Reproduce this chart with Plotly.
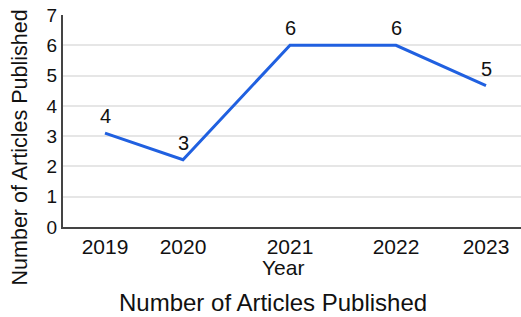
import plotly.graph_objects as go

years = ["2019", "2020", "2021", "2022", "2023"]
x_positions = [42, 120, 227, 333, 423]
plotted_values = [3.1, 2.22, 6.0, 6.0, 4.67]
label_values = ["4", "3", "6", "6", "5"]
y_ticks = [0, 1, 2, 3, 4, 5, 6, 7]

FONT = "Liberation Sans, Arial, Helvetica, sans-serif"
INK = "#111111"

fig = go.Figure()
fig.add_trace(go.Scatter(
    x=x_positions, y=plotted_values, mode="lines",
    line=dict(color="#2060E0", width=3),
    showlegend=False, hoverinfo="skip",
))

annotations = [
    dict(text=lab, x=xv, y=yv, xref="x", yref="y", yshift=17,
         xanchor="center", yanchor="middle", showarrow=False,
         font=dict(size=20, family=FONT, color=INK))
    for xv, yv, lab in zip(x_positions, plotted_values, label_values)
]
annotations += [
    dict(text="Number of Articles Published", xref="paper", yref="paper",
         x=-0.094, y=0.375, xanchor="center", yanchor="middle", textangle=-90,
         showarrow=False, font=dict(size=21.5, family=FONT, color=INK)),
    dict(text="Year", xref="paper", yref="paper", x=0.48, y=-0.193,
         xanchor="center", yanchor="middle", showarrow=False,
         font=dict(size=21, family=FONT, color=INK)),
    dict(text="Number of Articles Published", xref="paper", yref="paper",
         x=0.458, y=-0.358, xanchor="center", yanchor="middle", showarrow=False,
         font=dict(size=24, family=FONT, color=INK)),
]

fig.update_layout(
    width=521, height=317,
    margin=dict(l=63, r=0, t=15, b=90, autoexpand=False),
    paper_bgcolor="white", plot_bgcolor="white",
    font=dict(family=FONT, color=INK),
    xaxis=dict(range=[0, 458], tickvals=x_positions, ticktext=years, automargin=False,
               showgrid=False, zeroline=False, showline=True, linecolor="#444444", linewidth=2,
               ticks="", tickfont=dict(size=21, family=FONT, color=INK)),
    yaxis=dict(range=[0, 7], tickvals=y_ticks, showgrid=True, gridcolor="#e6e6e6", gridwidth=1.5,
               zeroline=False, showline=True, linecolor="#444444", linewidth=2, automargin=False,
               ticks="", ticklen=0, tickfont=dict(size=19, family=FONT, color=INK)),
    annotations=annotations,
)

fig.write_html("out.html", config={"displayModeBar": False},
               post_script="document.body.style.margin='0';")
